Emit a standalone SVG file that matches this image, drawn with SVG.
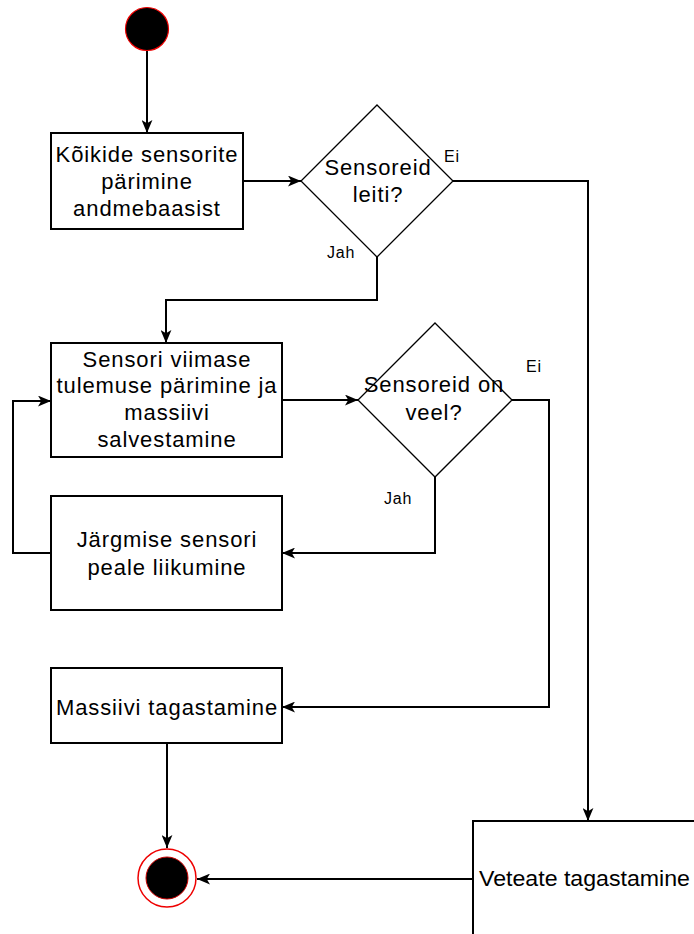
<svg xmlns="http://www.w3.org/2000/svg" width="694" height="934" viewBox="0 0 694 934">
  <defs>
    <marker id="arrow" viewBox="0 0 12 10" refX="12" refY="5" markerWidth="13" markerHeight="11" markerUnits="userSpaceOnUse" orient="auto">
      <path d="M0,0 L12,5 L0,10 L3,5 z" fill="#000"/>
    </marker>
    <style>
      .box { fill: #fff; stroke: #000; stroke-width: 2; }
      .dec { fill: #fff; stroke: #000; stroke-width: 1.3; }
      .edge { fill: none; stroke: #000; stroke-width: 2; marker-end: url(#arrow); }
      .lbl { font-family: "Liberation Sans", Arial, sans-serif; font-size: 22px; letter-spacing: 0.9px; fill: #000; text-anchor: middle; }
      .guard { font-family: "Liberation Sans", Arial, sans-serif; font-size: 16px; letter-spacing: 0.8px; fill: #000; text-anchor: middle; }
    </style>
  </defs>

  <!-- connectors -->
  <g id="edges">
    <path class="edge" d="M147,51 L147,133"/>
    <path class="edge" d="M243,181 L301,181"/>
    <path class="edge" d="M453,181 L588,181 L588,821"/>
    <path class="edge" d="M377,257 L377,300 L166,300 L166,343"/>
    <path class="edge" d="M282,400 L358,400"/>
    <path class="edge" d="M435,476 L435,553 L282,553"/>
    <path class="edge" d="M51,553 L13,553 L13,401 L51,401"/>
    <path class="edge" d="M512,400 L549,400 L549,707 L282,707"/>
    <path class="edge" d="M167,743 L167,848"/>
    <path class="edge" d="M473,879 L197,879"/>
  </g>

  <!-- start -->
  <g id="start">
    <circle cx="147" cy="29" r="21.5" fill="#000" stroke="#e00" stroke-width="1.2"/>
  </g>

  <g id="fetchAll">
    <rect class="box" x="51" y="133" width="192" height="96"/>
    <text class="lbl" x="147" y="162">Kõikide sensorite</text>
    <text class="lbl" x="147" y="189">pärimine</text>
    <text class="lbl" x="147" y="216">andmebaasist</text>
  </g>

  <g id="found">
    <polygon class="dec" points="377,105 453,181 377,257 301,181"/>
    <text class="lbl" x="378" y="175">Sensoreid</text>
    <text class="lbl" x="378" y="202">leiti?</text>
  </g>
  <text class="guard" x="452" y="162">Ei</text>
  <text class="guard" x="341" y="258">Jah</text>

  <g id="fetchLast">
    <rect class="box" x="51" y="343" width="231" height="114"/>
    <text class="lbl" x="167" y="367">Sensori viimase</text>
    <text class="lbl" x="167" y="393">tulemuse pärimine ja</text>
    <text class="lbl" x="167" y="420">massiivi</text>
    <text class="lbl" x="167" y="447">salvestamine</text>
  </g>

  <g id="more">
    <polygon class="dec" points="435,323 512,400 435,477 358,400"/>
    <text class="lbl" x="434" y="392">Sensoreid on</text>
    <text class="lbl" x="434" y="420">veel?</text>
  </g>
  <text class="guard" x="534" y="372">Ei</text>
  <text class="guard" x="398" y="504">Jah</text>

  <g id="next">
    <rect class="box" x="51" y="496" width="231" height="114"/>
    <text class="lbl" x="167" y="547">Järgmise sensori</text>
    <text class="lbl" x="167" y="575">peale liikumine</text>
  </g>

  <g id="returnArray">
    <rect class="box" x="51" y="668" width="231" height="75"/>
    <text class="lbl" x="167" y="715">Massiivi tagastamine</text>
  </g>

  <g id="returnError">
    <rect class="box" x="473" y="821" width="260" height="150"/>
    <text class="lbl" x="479" y="886" textLength="211" lengthAdjust="spacingAndGlyphs" style="text-anchor:start;letter-spacing:0">Veteate tagastamine</text>
  </g>

  <!-- end -->
  <g id="end">
    <circle cx="167" cy="878" r="29" fill="#fff" stroke="#e00" stroke-width="1.5"/>
    <circle cx="167" cy="878" r="21" fill="#000" stroke="#c00" stroke-width="1"/>
  </g>
</svg>
